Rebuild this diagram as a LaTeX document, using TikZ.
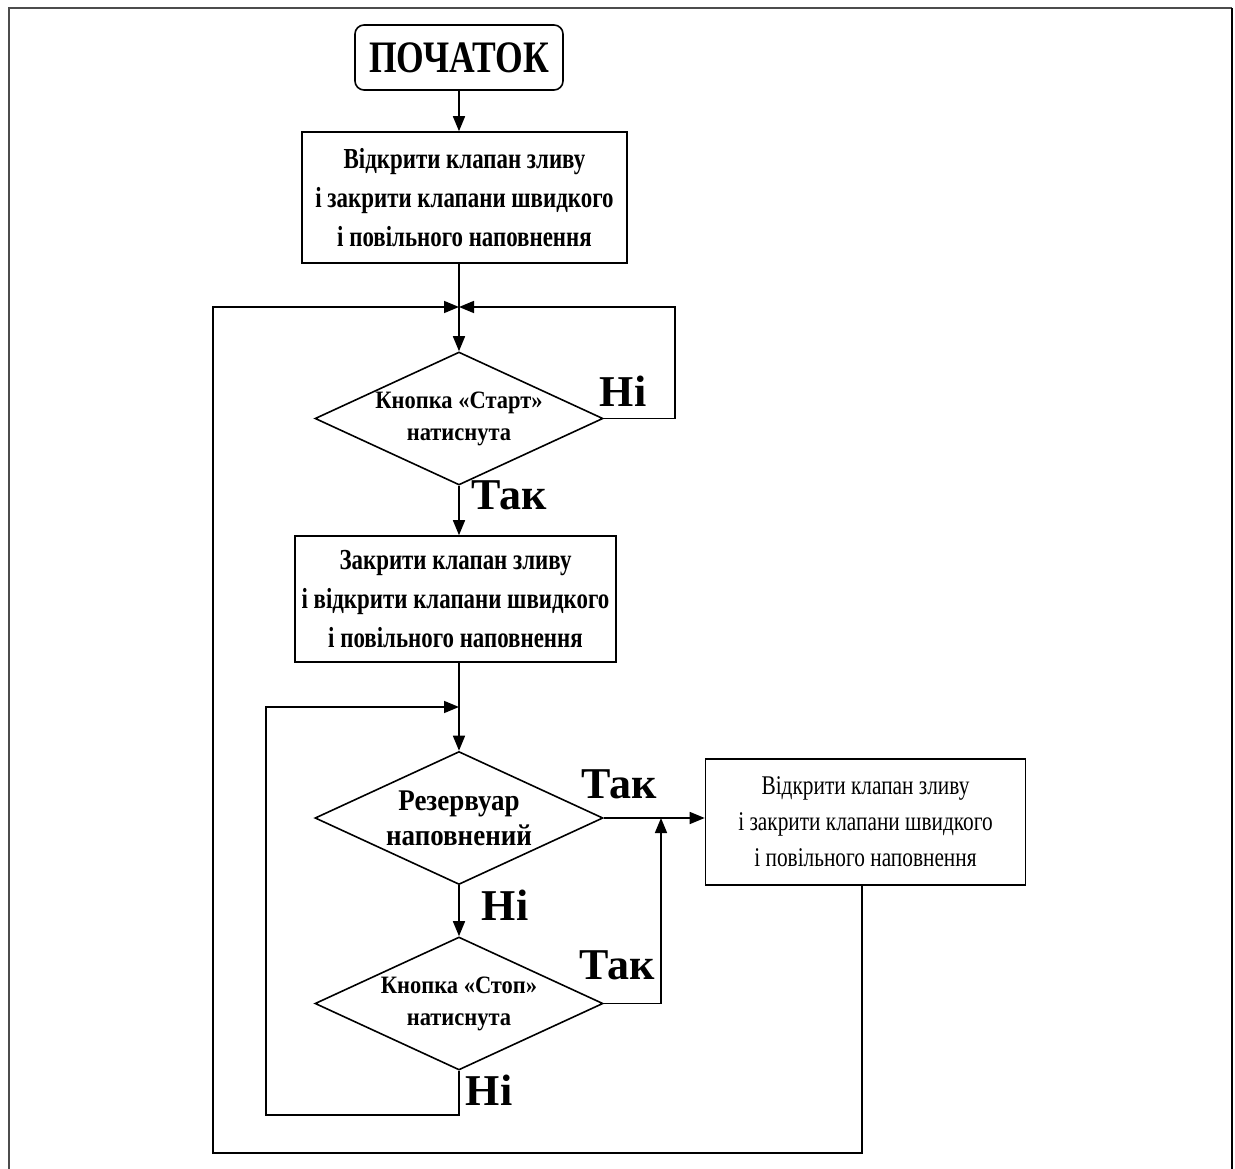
\documentclass[tikz,border=0pt]{standalone}
\usepackage{fontspec}
\setmainfont{Liberation Serif}
\newfontfamily\narrowfont[FakeStretch=0.79]{Liberation Serif}
\newfontfamily\midfont[FakeStretch=0.9]{Liberation Serif}
\usetikzlibrary{shapes.geometric, arrows.meta}

\begin{document}
\begin{tikzpicture}[x=1pt, y=-1pt, line width=1.6pt,
    arr/.style={-{Triangle[length=15pt,width=12pt]}},
    blok/.style={draw, rectangle, inner sep=0pt, align=center,
        font=\narrowfont\bfseries\fontsize{29}{39}\selectfont},
    rishennia/.style={draw, diamond, aspect=2.2, inner sep=0pt, align=center,
        minimum width=288pt, minimum height=133pt,
        font=\midfont\bfseries\fontsize{25}{32}\selectfont},
    mitka/.style={inner sep=0pt, font=\bfseries\fontsize{44}{48}\selectfont}]
    \useasboundingbox (0,0) rectangle (1235,1169);
    \draw[line width=1.2pt, black!70] (9,1169) -- (9,8) -- (1232,8);
    \draw[line width=2.4pt] (1232,8) -- (1232,1169);

    \node[blok, rounded corners=9pt, minimum width=208pt, minimum height=65pt,
        font=\narrowfont\bfseries\fontsize{45}{48}\selectfont] (start) at (459,57.5) {ПОЧАТОК};
    \node[blok, minimum width=325pt, minimum height=131pt] (klapan1) at (464.5,197.5)
        {Відкрити клапан зливу\\і закрити клапани швидкого\\і повільного наповнення};
    \coordinate (vuzol1) at (459,307);
    \node[rishennia] (startknopka) at (459,418.5) {Кнопка «Старт»\\натиснута};
    \node[blok, minimum width=321pt, minimum height=126pt] (klapan2) at (455.5,599)
        {Закрити клапан зливу\\і відкрити клапани швидкого\\і повільного наповнення};
    \coordinate (vuzol2) at (459,707);
    \node[rishennia, font=\midfont\bfseries\fontsize{30}{35}\selectfont] (rezervuar) at (459,818)
        {Резервуар\\наповнений};
    \node[blok, minimum width=320pt, minimum height=126pt,
        font=\narrowfont\fontsize{27}{36}\selectfont] (klapan3) at (865.5,822)
        {Відкрити клапан зливу\\і закрити клапани швидкого\\і повільного наповнення};
    \node[rishennia] (stopknopka) at (459,1003.5) {Кнопка «Стоп»\\натиснута};

    \draw[arr] (start.south) -- (start.south |- klapan1.north);
    \draw (start.south |- klapan1.south) -- (vuzol1);
    \draw[arr] (vuzol1) -- (startknopka.north);
    \draw[arr] (startknopka.south) -- (startknopka.south |- klapan2.north);
    \draw (startknopka.south |- klapan2.south) -- (vuzol2);
    \draw[arr] (vuzol2) -- (rezervuar.north);
    \draw[arr] (rezervuar.south) -- (stopknopka.north);
    \draw[arr] (rezervuar.east) -- (rezervuar.east -| klapan3.west);

    % cikly
    \draw[arr] (startknopka.east) -- (675,418.5) -- (675,307) -- (vuzol1);
    \draw[arr] (stopknopka.east) -- (661,1003.5) -- (661,818);
    \draw[arr] (stopknopka.south) -- (459,1115) -- (266,1115) -- (266,707) -- (vuzol2);
    \draw[arr] (862,885) -- (862,1153) -- (213,1153) -- (213,307) -- (vuzol1);

    \node[mitka] (ni1) at (623,391) {Ні};
    \node[mitka] (tak1) at (509,495) {Так};
    \node[mitka] (tak2) at (619,784) {Так};
    \node[mitka] (ni2) at (505,905) {Ні};
    \node[mitka] (tak3) at (617,965) {Так};
    \node[mitka] (ni3) at (489,1090) {Ні};
\end{tikzpicture}
\end{document}
